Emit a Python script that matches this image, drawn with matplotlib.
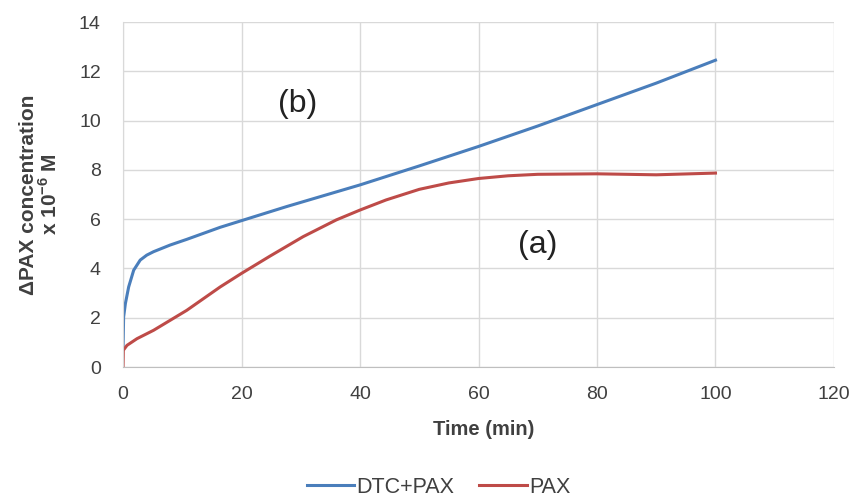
import numpy as np
import matplotlib
matplotlib.use('Agg')
import matplotlib.pyplot as plt

# data
t_blue = [0, 0.1, 0.4, 0.95, 1.8, 2.9, 4.0, 5.15, 7.95, 10.75, 16.4, 20, 27.6, 40, 50, 60, 70, 80, 90, 100]
c_blue = [0.75, 2.03, 2.58, 3.25, 3.93, 4.34, 4.54, 4.68, 4.95, 5.18, 5.67, 5.94, 6.51, 7.39, 8.16, 8.95, 9.78, 10.65, 11.52, 12.45]

t_red = [0, 0.05, 0.67, 2.35, 5.15, 10.75, 16.4, 20, 24.8, 30.4, 36, 40, 44.4, 50, 55, 60, 65, 70, 80, 90, 100]
c_red = [0.0, 0.68, 0.88, 1.15, 1.49, 2.3, 3.25, 3.8, 4.5, 5.29, 5.97, 6.37, 6.78, 7.21, 7.47, 7.65, 7.76, 7.82, 7.84, 7.8, 7.87]

xticks = [0, 20, 40, 60, 80, 100, 120]
yticks = [0, 2, 4, 6, 8, 10, 12, 14]

plt.rcParams['font.family'] = ['Liberation Sans', 'DejaVu Sans']
plt.rcParams['mathtext.fontset'] = 'custom'
plt.rcParams['mathtext.bf'] = 'Liberation Sans:bold'

fig = plt.figure(figsize=(8.55, 4.98), dpi=100)
ax = fig.add_axes([0.1439, 0.263, 0.8315, 0.6928])

ax.plot(t_blue, c_blue, color='#4a7ebb', lw=2.2, label='DTC+PAX', solid_joinstyle='round')
ax.plot(t_red, c_red, color='#be4b48', lw=2.2, label='PAX', solid_joinstyle='round')

ax.set_xlim(0, 120)
ax.set_ylim(0, 14)
ax.set_xticks(xticks)
ax.set_yticks(yticks)
ax.tick_params(length=0, labelsize=14, labelcolor='#404040')
ax.tick_params(axis='x', pad=14)
ax.tick_params(axis='y', pad=16)
ax.grid(True, color='#d9d9d9', lw=1)
ax.set_axisbelow(True)
for s in ['top', 'right']:
    ax.spines[s].set_visible(False)
ax.spines['left'].set_color('#d9d9d9')
ax.spines['bottom'].set_color('#bfbfbf')

ax.set_xlabel('Time (min)', fontsize=14.5, fontweight='bold', color='#404040')
ax.xaxis.set_label_coords(0.507, -0.153)
ax.set_ylabel('ΔPAX concentration\nx 10$^{\\mathbf{-6}}$ M', fontsize=15, fontweight='bold',
              color='#404040', linespacing=1.0)
ax.yaxis.set_label_coords(-0.088, 0.5)

ax.text(29.5, 10.67, '(b)', fontsize=23, color='#222222', ha='center', va='center')
ax.text(70, 4.97, '(a)', fontsize=23, color='#222222', ha='center', va='center')

fig.legend(loc='center', bbox_to_anchor=(0.513, 0.022), ncol=2, frameon=False,
           fontsize=15.5, handlelength=2.2, columnspacing=1.15, handletextpad=0.1,
           labelcolor='#404040')

fig.savefig('out.png', dpi=100)
